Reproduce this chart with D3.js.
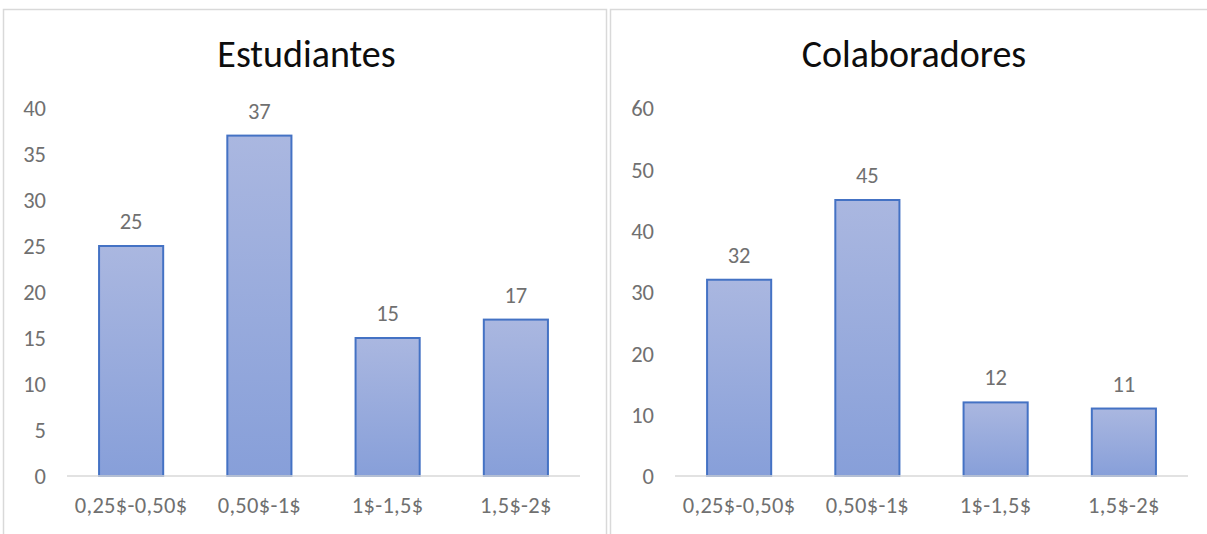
<!DOCTYPE html>
<html>
<head>
<meta charset="utf-8">
<script src="https://cdn.jsdelivr.net/npm/d3@7"></script>
<style>
  html, body { margin: 0; padding: 0; background: #fff; }
  svg { display: block; }
  text { font-family: Carlito, Lato, "Noto Sans", sans-serif; }
</style>
</head>
<body>
<svg id="chart" width="1207" height="534"></svg>
<script>
// Price ranges shared by both charts
const categories = ["0,25$-0,50$", "0,50$-1$", "1$-1,5$", "1,5$-2$"];

// Counts per price range
const estudiantes = [25, 37, 15, 17];
const colaboradores = [32, 45, 12, 11];

// Y-axis ticks for each chart
const ticksEstudiantes = [0, 5, 10, 15, 20, 25, 30, 35, 40];
const ticksColaboradores = [0, 10, 20, 30, 40, 50, 60];

const svg = d3.select("#chart");
const FONT = "Carlito, Lato, 'Noto Sans', sans-serif";
const LABEL_SIZE = 22.5;
const LABEL_COLOR = "#707070";

// Vertical gradient used as bar fill
const defs = svg.append("defs");
const grad = defs.append("linearGradient")
  .attr("id", "barFill")
  .attr("x1", 0).attr("y1", 0).attr("x2", 0).attr("y2", 1);
grad.append("stop").attr("offset", "0%").attr("stop-color", "#aab7e0");
grad.append("stop").attr("offset", "100%").attr("stop-color", "#879fd9");

function drawPanel(opts) {
  const { x0, x1, title, values, ticks, plotLeft, plotRight } = opts;
  const g = svg.append("g");

  // Panel frame (bottom runs past the visible area)
  g.append("rect")
    .attr("x", x0 + 0.5).attr("y", 9.5)
    .attr("width", x1 - x0).attr("height", 540)
    .attr("fill", "#fff")
    .attr("stroke", "#d9d9d9").attr("stroke-width", 1.5);

  const yTop = 108, yBottom = 476;
  const x = d3.scaleBand().domain(categories).range([plotLeft, plotRight]).paddingInner(0.5).paddingOuter(0.25);
  const y = d3.scaleLinear().domain([0, d3.max(ticks)]).range([yBottom, yTop]);

  // Title
  g.append("text")
    .attr("x", (x0 + x1) / 2 + 2).attr("y", 67)
    .attr("text-anchor", "middle")
    .attr("font-size", 38)
    .attr("fill", "#0d0d0d")
    .text(title);

  // Y axis (labels only)
  const yAxis = d3.axisLeft(y).tickValues(ticks).tickSize(0).tickPadding(0);
  const ya = g.append("g").attr("transform", `translate(${plotLeft - 21},0)`).call(yAxis);
  ya.select(".domain").remove();
  ya.selectAll("text")
    .attr("font-size", LABEL_SIZE).attr("fill", LABEL_COLOR)
    .attr("text-anchor", "end").attr("dy", "0.35em")
    .style("font-family", FONT);

  // Bars
  g.selectAll("rect.bar").data(values).enter().append("rect")
    .attr("class", "bar")
    .attr("x", (d, i) => x(categories[i]))
    .attr("y", d => y(d))
    .attr("width", x.bandwidth())
    .attr("height", d => yBottom - y(d))
    .attr("fill", "url(#barFill)")
    .attr("stroke", "#4472c4").attr("stroke-width", 2);

  // Value labels
  g.selectAll("text.val").data(values).enter().append("text")
    .attr("class", "val")
    .attr("x", (d, i) => x(categories[i]) + x.bandwidth() / 2)
    .attr("y", d => y(d) - 17)
    .attr("text-anchor", "middle")
    .attr("font-size", LABEL_SIZE).attr("fill", LABEL_COLOR)
    .text(d => d);

  // X axis baseline and category labels
  const xAxis = d3.axisBottom(x).tickSize(0).tickPadding(21);
  const xa = g.append("g").attr("transform", `translate(0,${yBottom})`).call(xAxis);
  xa.select(".domain").attr("stroke", "#d9d9d9").attr("stroke-width", 1.5)
    .attr("d", `M${plotLeft},0H${plotRight}`);
  xa.selectAll("text")
    .attr("font-size", LABEL_SIZE).attr("fill", LABEL_COLOR)
    .attr("dy", "0.71em")
    .attr("letter-spacing", 0.3)
    .style("font-family", FONT);
}

drawPanel({ x0: 3, x1: 606, title: "Estudiantes", values: estudiantes, ticks: ticksEstudiantes, plotLeft: 67, plotRight: 580 });
drawPanel({ x0: 610, x1: 1214, title: "Colaboradores", values: colaboradores, ticks: ticksColaboradores, plotLeft: 675, plotRight: 1188 });
</script>
</body>
</html>
